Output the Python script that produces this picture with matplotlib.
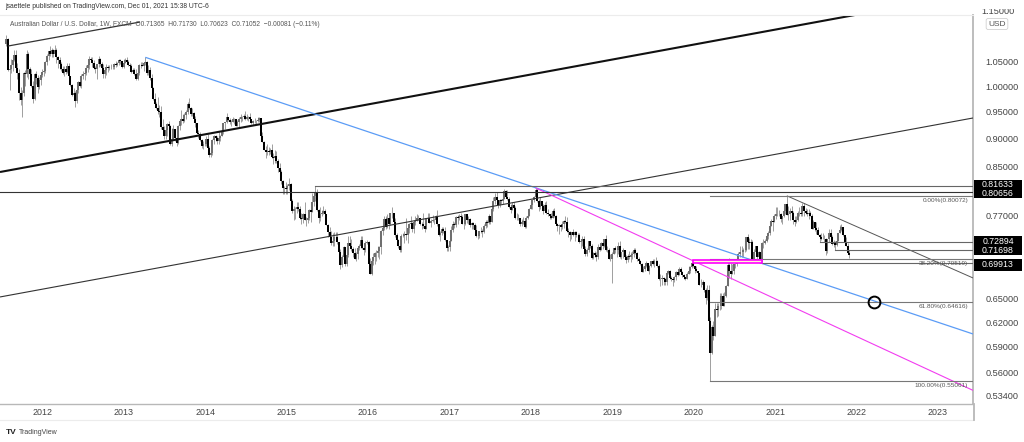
import numpy as np
import pandas as pd
import matplotlib
matplotlib.use("Agg")
import matplotlib.pyplot as plt
import matplotlib.dates as mdates
from matplotlib.patches import Rectangle
from matplotlib.ticker import NullLocator, FixedLocator

plt.rcParams['font.family'] = ['Liberation Sans', 'DejaVu Sans']

# ---------------- weekly AUD/USD data (prices in 1e-4 units), weeks start 2011-07-25 ----------------
first_open = 10880
highs = [
    # 2011
    11081,11010,10390,10560,10620,10760,10750,10480,10340,9990,9920,10280,10320,10764,10710,10390,10350,10100,10260,10300,10220,10190,10250,
    # 2012
    10360,10370,10510,10670,10740, 10840,10800,10770,10856, 10790,10630,10600,10490, 10420,10420,10400,10470,10470,
    10200,10050,9960,9900, 9990,10110,10150,10250, 10310,10300,10430,10470,10620, 10610,10600,10530,10420,
    10460,10625,10580,10490, 10460,10380,10450,10440,10440, 10460,10450,10470,10510, 10490,10570,10570,10510,10560,
    # 2013
    10580,10600,10530,10480, 10450,10380,10380,10340, 10280,10460,10500,10500, 10480,10598,10510,10440,10390,
    10250,9990,9860,9680, 9770,9620,9600,9360, 9220,9200,9270,9320,9240, 9180,9240,9160,9060,
    9240,9340,9530,9440,9460, 9520,9680,9758,9590, 9560,9480,9420,9280, 9140,9120,8990,8940,8990,
    # 2014
    9030,9080,8850,8840, 8980,9060,9060,9030, 9130,9060,9160,9280,9300, 9460,9400,9380,9340,
    9390,9380,9330,9330, 9390,9450,9420,9450,9500, 9450,9420,9460,9360, 9340,9370,9340,9400,
    9400,9360,9110,8950,8860, 8900,8830,8820,8900, 8730,8790,8760,8620, 8560,8430,8270,8170,8230,
    # 2015
    8200,8300,8220,7960, 7850,7830,7900,7910, 7850,7730,7740,7900,7670, 7750,7800,7780,8060,
    8030,8163,8110,7790, 7820,7780,7850,7800,7720, 7570,7520,7460,7420, 7440,7440,7440,7270,7190,
    7100,7230,7130,7120, 7380,7382,7330,7220, 7210,7150,7210,7260,7380, 7380,7280,7300,7320,
    # 2016
    7300,7060,7040,7130, 7140,7170,7240,7240,7470, 7530,7680,7680,7720, 7680,7720,7835,7720,
    7650,7420,7330,7250,7410, 7430,7450,7650,7520, 7580,7680,7600,7620, 7680,7720,7700,7650,7590,
    7730,7560,7660,7730, 7730,7640,7700,7650,7700, 7779,7570,7460,7510, 7520,7520,7310,7250,
    # 2017
    7300,7530,7610,7600,7680, 7700,7720,7740,7700, 7610,7720,7720,7680, 7660,7590,7600,7580,
    7550,7440,7460,7520,7480, 7560,7630,7630,7720, 7690,7790,7990,8060,8070, 7940,7960,7960,7990,
    8125,8100,8100,7990, 7870,7900,7900,7840,7730, 7720,7660,7640,7670, 7640,7680,7720,7810,
    # 2018
    7890,7950,8010,8136,8130, 7950,7990,7920,7880, 7900,7920,7790,7720, 7730,7790,7810,7700,7580,
    7560,7560,7610,7630, 7680,7670,7500,7460, 7440,7480,7460,7450,7430, 7430,7310,7380,7380,
    7240,7200,7310,7310, 7260,7150,7160,7140,7260, 7260,7290,7300,7340, 7390,7240,7200,7110,7140,
    # 2019
    7210,7240,7190,7290, 7300,7150,7210,7180, 7100,7110,7160,7150, 7160,7200,7210,7150,7080,
    7030,6990,6940,6950, 7010,6990,6960,7020, 7050,7040,7080,7030,6970, 6830,6820,6800,6780,
    6850,6890,6890,6810,6780, 6810,6870,6870,6930, 6930,6880,6830,6800, 6860,6940,6950,6990,7030,
    # 2020
    6930,6940,6880,6850, 6770,6750,6730,6650, 6690,6690,6270,6170,6210, 6440,6440,6450,6570,
    6570,6570,6590,6680, 7000,7060,6990,6970,6980, 7010,7060,7150,7230, 7240,7200,7280,7370,7413,
    7350,7340,7320,7190, 7240,7240,7160,7150, 7290,7340,7340,7400,7450, 7580,7640,7630,7720,
    # 2021
    7820,7820,7780,7740, 7690,7780,7880,8007, 7840,7810,7850,7760,7680, 7680,7760,7820,7810,
    7890,7891,7810,7800,7790, 7770,7720,7620,7600, 7600,7510,7410,7420, 7430,7390,7350,7330,7480,
    7480,7400,7320,7310, 7330,7430,7546,7556, 7520,7370,7370,7280,7173,
]
lows = [
    # 2011
    10840,10300,9914,10270,10300,10520,10330,10150,9720,9630,9387,9800,10000,10180,10140,10030,9980,9660,9720,10050,9860,9930,10030,
    # 2012
    10190,10200,10270,10440,10550, 10620,10600,10600,10640, 10480,10370,10360,10300, 10250,10200,10240,10260,10160,
    10000,9800,9770,9581, 9660,9860,9980,9950, 10140,10130,10230,10280,10360, 10500,10400,10360,10270,
    10150,10400,10420,10360, 10170,10160,10220,10290,10330, 10340,10340,10350,10390, 10410,10440,10460,10380,10380,
    # 2013
    10480,10470,10410,10380, 10270,10270,10220,10120, 10120,10220,10370,10410, 10300,10440,10220,10220,10120,
    9960,9730,9580,9540, 9450,9400,9170,9120, 8990,8990,9030,9200,8880, 8848,9000,8950,8850,
    8900,9150,9250,9270,9300, 9350,9440,9550,9420, 9410,9300,9210,9090, 9000,8940,8820,8800,8850,
    # 2014
    8860,8810,8660,8660, 8700,8900,8940,8890, 8890,8950,9030,9070,9170, 9280,9320,9260,9220,
    9290,9260,9220,9220, 9200,9300,9310,9360,9340, 9340,9320,9330,9260, 9240,9270,9260,9300,
    9300,9020,8940,8780,8640, 8700,8690,8720,8640, 8540,8550,8560,8410, 8380,8200,8040,8030,8040,
    # 2015
    8030,8100,7990,7740, 7630,7640,7740,7760, 7640,7560,7580,7620,7530, 7580,7620,7600,7760,
    7850,7930,7770,7580, 7610,7690,7710,7690,7560, 7370,7350,7250,7230, 7240,7300,7260,7044,6900,
    6930,7000,6940,6940, 7070,7210,7160,7070, 7040,7020,7050,7170,7200, 7190,7100,7140,7260,
    # 2016
    6960,6830,6827,6960, 6970,7010,7080,7050,7120, 7400,7470,7480,7500, 7490,7540,7660,7540,
    7370,7310,7200,7140,7150, 7360,7280,7320,7280, 7420,7550,7440,7420, 7550,7630,7620,7540,7490,
    7500,7440,7490,7600, 7580,7520,7590,7570,7590, 7530,7380,7310,7390, 7420,7310,7160,7160,
    # 2017
    7160,7300,7440,7500,7520, 7560,7630,7650,7560, 7490,7540,7580,7560, 7520,7480,7490,7460,
    7370,7330,7350,7420,7370, 7420,7500,7520,7570, 7570,7590,7760,7870,7920, 7810,7830,7870,7880,
    7950,7980,7940,7810, 7730,7780,7800,7640,7620, 7620,7530,7530,7560, 7500,7501,7640,7690,
    # 2018
    7800,7800,7900,7980,7900, 7760,7800,7800,7710, 7750,7720,7680,7640, 7640,7660,7670,7560,7460,
    7410,7450,7490,7500, 7580,7440,7360,7310, 7330,7380,7310,7370,7360, 7280,7200,7240,7190,
    7090,7090,7140,7200, 7040,7040,7080,7020,7050, 7160,7170,7190,7220, 7160,7150,7050,7020,6716,
    # 2019
    7110,7130,7080,7120, 7060,7050,7060,7060, 6990,7000,7040,7000, 7050,7080,7110,7010,6990,
    6960,6860,6860,6870, 6930,6870,6832,6930, 6960,6930,6980,6930,6750, 6677,6690,6690,6690,
    6690,6830,6760,6740,6671, 6720,6750,6810,6820, 6850,6790,6770,6750, 6760,6830,6850,6920,6930,
    # 2020
    6850,6860,6820,6680, 6660,6680,6590,6435, 6480,6210,5506,5810,5980, 6040,6260,6280,6360,
    6370,6400,6400,6520, 6700,6780,6770,6830,6830, 6920,6940,7000,7080, 7080,7080,7140,7160,7190,
    7190,7250,7000,7040, 7090,7030,7060,6990, 7000,7200,7260,7290,7340, 7390,7530,7460,7590,
    # 2021
    7640,7680,7680,7590, 7560,7670,7710,7700, 7620,7620,7690,7560,7530, 7580,7610,7680,7690,
    7690,7680,7710,7690,7640, 7680,7480,7480,7450, 7410,7390,7290,7320, 7330,7290,7105,7130,7290,
    7320,7250,7220,7170, 7230,7300,7420,7460, 7380,7270,7230,7110,7062,
]
closes = [
    # 2011
    10990,10330,10360,10440,10550,10640,10380,10260,9850,9720,9850,10270,10250,10680,10360,10240,10010,9750,10240,10160,9970,10120,10230,
    # 2012
    10280,10300,10500,10620,10730, 10660,10750,10680,10760, 10600,10550,10450,10350, 10270,10350,10290,10410,10200,
    10020,9820,9850,9700, 9910,10080,10010,10210, 10240,10270,10380,10440,10560, 10550,10470,10380,10340,
    10450,10570,10460,10380, 10240,10320,10390,10370,10390, 10400,10390,10460,10440, 10470,10550,10510,10390,10470,
    # 2013
    10550,10500,10430,10420, 10290,10330,10250,10150, 10260,10440,10440,10420, 10470,10490,10270,10330,10170,
    9960,9750,9640,9570, 9500,9480,9200,9150, 9040,9140,9260,9230,8900, 8990,9160,9000,8910,
    9220,9320,9350,9320,9430, 9490,9640,9560,9450, 9470,9350,9280,9100, 9070,8960,8850,8890,8890,
    # 2014
    8990,8820,8700,8740, 8960,9030,9000,8950, 9000,9040,9120,9270,9290, 9400,9340,9290,9300,
    9360,9350,9230,9290, 9360,9390,9400,9420,9360, 9390,9390,9350,9270, 9310,9310,9310,9340,
    9370,9040,8930,8780,8750, 8760,8750,8780,8660, 8640,8680,8600,8470, 8410,8250,8140,8130,8110,
    # 2015
    8170,8200,7920,7770, 7800,7790,7830,7800, 7660,7640,7720,7620,7620, 7660,7780,7750,7900,
    8000,8070,7780,7660, 7720,7740,7770,7720,7540, 7440,7360,7280,7310, 7370,7370,7290,7150,6960,
    7080,7220,6980,7100, 7280,7240,7190,7130, 7050,7120,7200,7230,7320, 7200,7170,7280,7290,
    # 2016
    6970,6840,7010,7070, 7130,7130,7160,7220,7460, 7500,7640,7520,7660, 7570,7730,7730,7600,
    7390,7320,7240,7180,7380, 7380,7410,7400,7500, 7560,7580,7480,7600, 7610,7660,7650,7570,7560,
    7530,7490,7660,7660, 7580,7610,7620,7620,7690, 7560,7390,7430,7480, 7450,7320,7200,7220,
    # 2017
    7300,7470,7560,7540,7670, 7650,7680,7670,7570, 7570,7710,7620,7640, 7540,7580,7550,7470,
    7380,7380,7450,7450,7440, 7530,7590,7580,7690, 7600,7790,7920,7990,7940, 7860,7940,7930,7960,
    8090,7990,7960,7830, 7780,7860,7810,7660,7650, 7650,7560,7600,7610, 7520,7660,7690,7800,
    # 2018
    7860,7940,7990,8100,7920, 7820,7930,7850,7760, 7860,7730,7710,7680, 7660,7760,7680,7570,7530,
    7540,7510,7560,7610, 7600,7450,7440,7400, 7440,7400,7440,7390,7400, 7290,7310,7330,7190,
    7110,7180,7300,7230, 7060,7130,7100,7080,7220, 7180,7280,7230,7330, 7180,7170,7050,7050,7120,
    # 2019
    7200,7170,7180,7230, 7080,7140,7170,7080, 7030,7090,7070,7100, 7110,7170,7130,7040,7010,
    6980,6860,6900,6950, 6990,6880,6940,7020, 6980,7020,7020,6950,6770, 6770,6780,6760,6730,
    6850,6870,6780,6760,6750, 6800,6860,6820,6900, 6860,6820,6790,6760, 6840,6870,6930,6990,6950,
    # 2020
    6900,6880,6850,6690, 6680,6720,6610,6510, 6620,6220,5830,6140,6030, 6370,6360,6410,6400,
    6540,6410,6540,6670, 6960,6870,6840,6880,6970, 6980,7010,7110,7140, 7150,7170,7170,7370,7290,
    7280,7290,7030,7140, 7240,7080,7140,7030, 7270,7270,7300,7380,7430, 7530,7610,7600,7690,
    # 2021
    7720,7710,7710,7640, 7690,7760,7870,7700, 7710,7760,7740,7630,7600, 7620,7740,7740,7720,
    7840,7760,7730,7710,7740, 7690,7490,7590,7500, 7470,7390,7370,7340, 7340,7340,7160,7330,7430,
    7360,7260,7270,7250, 7300,7430,7470,7520, 7390,7290,7230,7137,7105,
]

years = list(range(2012, 2024))
y_ticks = [1.05, 1.00, 0.95, 0.90, 0.85, 0.77, 0.65, 0.62, 0.59, 0.56, 0.534]

# drawings (date, price) anchors
chan_top = [("2011-08-01", 1.0843), ("2013-03-15", 1.1383)]
chan_mid = [("2011-06-26", 0.8402), ("2021-12-24", 1.1546)]
chan_low = [("2011-06-26", 0.6524), ("2023-06-07", 0.9373)]
blue_line = [("2013-04-08", 1.0598), ("2023-06-07", 0.6053)]
pink_line = [("2018-01-22", 0.8136), ("2023-06-07", 0.540)]
gray_down = [("2021-02-22", 0.8007), ("2023-06-07", 0.678)]
h_levels = [0.81633, 0.80656, 0.72894, 0.71698, 0.69913]
h_starts = ["2015-05-11", "2011-06-26", "2021-07-19", "2021-09-27", "2020-11-02"]
fib_levels = [0.80072, 0.70519, 0.64616, 0.55061]
fib_labels = ["0.00%(0.80072)", "38.20%(0.70519)", "61.80%(0.64616)", "100.00%(0.55061)"]
fib_start = "2020-03-16"
box_zone = [("2019-12-30", 0.7032), ("2020-11-02", 0.6991)]
circle_pt = ("2022-03-21", 0.6462)

# ---------------- figure ----------------
W, H = 1024, 442
fig = plt.figure(figsize=(W / 100, H / 100), dpi=100)
fig.patch.set_facecolor("white")
top_px, bot_px, right_px = 15, 404, 973
ax = fig.add_axes([0, 1 - bot_px / H, right_px / W, (bot_px - top_px) / H])
ax.set_facecolor("white")

d = lambda s: mdates.date2num(pd.Timestamp(s))
x_left, x_right = d("2011-06-26"), d("2023-06-07")
ax.set_xlim(x_left, x_right)
ax.set_yscale("log")
ax.set_ylim(0.5253, 1.1546)

hi = np.array(highs) / 1e4
lo = np.array(lows) / 1e4
cl = np.array(closes) / 1e4
op = np.concatenate([[first_open / 1e4], cl[:-1]])
dates = pd.date_range("2011-07-25", periods=len(cl), freq="W-MON")
xs = mdates.date2num(dates)

wl = np.minimum(lo, np.minimum(op, cl))
wh = np.maximum(hi, np.maximum(op, cl))
ax.vlines(xs, wl, wh, color="#8f8f8f", lw=0.6, zorder=2)
up = cl >= op
ax.vlines(xs[up], op[up], cl[up], color="#6f6f6f", lw=1.45, zorder=3)
ax.vlines(xs[~up], op[~up], cl[~up], color="#000000", lw=1.45, zorder=4)

def seg(pts, **kw):
    ax.plot([d(p[0]) for p in pts], [p[1] for p in pts], solid_capstyle="butt", **kw)

seg(chan_top, color="#333333", lw=0.9, zorder=5)
seg(chan_mid, color="#111111", lw=1.5, zorder=5)
seg(chan_low, color="#333333", lw=0.8, zorder=5)
seg(blue_line, color="#5b9cf6", lw=0.9, zorder=5)
seg(pink_line, color="#f23cf0", lw=0.8, zorder=5)
seg(gray_down, color="#555555", lw=0.7, zorder=5)

for lev, st in zip(h_levels, h_starts):
    c = "#333333" if lev == 0.80656 else "#666666"
    ax.plot([d(st), x_right], [lev, lev], color=c, lw=0.8, zorder=5)
for lev, lab in zip(fib_levels, fib_labels):
    ax.plot([d(fib_start), x_right], [lev, lev], color="#777777", lw=0.8, zorder=5)
    ax.annotate(lab, xy=(0.9949, lev), xycoords=("axes fraction", "data"),
                xytext=(0, -1.5), textcoords="offset points", ha="right", va="top",
                fontsize=4.6, color="#555555", zorder=6)

(b0, p0), (b1, p1) = box_zone
ax.add_patch(Rectangle((d(b0), p1), d(b1) - d(b0), p0 - p1, facecolor="#fff8d0",
                       edgecolor="#ff00ff", lw=1.2, zorder=6))
ax.plot([d(circle_pt[0])], [circle_pt[1]], marker="o", ms=8.5, mfc="none",
        mec="black", mew=1.4, zorder=7)

# axes styling
for s in ["left", "top"]:
    ax.spines[s].set_visible(False)
ax.spines["right"].set_color("#b8b8b8")
ax.spines["right"].set_linewidth(1.3)
ax.spines["bottom"].set_color("#b8b8b8")
ax.spines["bottom"].set_linewidth(1.0)
ax.yaxis.tick_right()
ax.yaxis.set_major_locator(FixedLocator(y_ticks))
ax.yaxis.set_minor_locator(NullLocator())
ax.set_yticklabels([f"{v:.5f}" for v in y_ticks])
ax.tick_params(axis="y", length=0, pad=9, labelsize=6.6, colors="#444444")
ax.set_xticks([d(f"{y}-01-01") for y in years])
ax.set_xticklabels([str(y) for y in years])
ax.xaxis.set_minor_locator(NullLocator())
ax.tick_params(axis="x", length=0, pad=3.0, labelsize=6.4, colors="#444444")

fig.canvas.draw()

# price label boxes (y centres in pixels from the top, placed so that they don't collide)
label_centres = [184.5, 193.5, 241.0, 250.5, 264.5]
label_heights = [9.0, 9.0, 9.5, 9.5, 12.0]
for lev, yc_top, hgt in zip(h_levels, label_centres, label_heights):
    yc = H - yc_top
    fig.patches.append(Rectangle((974 / W, (yc - hgt / 2) / H), 48 / W, hgt / H,
                                 transform=fig.transFigure, facecolor="black",
                                 edgecolor="none", zorder=3))
    fig.text(998 / W, yc / H, f"{lev:.5f}", ha="center", va="center",
             fontsize=6.3, color="white", zorder=4)

# top partial label and USD
fig.text(998 / W, 1 - 11 / H, "1.15000", ha="center", va="center", fontsize=6.6, color="#444444")
fig.patches.append(Rectangle((974 / W, 1 - 9 / H), 50 / W, 9 / H, transform=fig.transFigure,
                             facecolor="white", edgecolor="none", zorder=5))
fig.text(997 / W, 1 - 24 / H, "USD", ha="center", va="center", fontsize=6, color="#555555",
         bbox=dict(boxstyle="round,pad=0.25", fc="white", ec="#d0d0d0", lw=0.6), zorder=6)

# border lines
fig.lines.append(plt.Line2D([0, right_px / W], [1 - top_px / H] * 2, transform=fig.transFigure,
                            color="#ececec", lw=0.8))
fig.lines.append(plt.Line2D([0, right_px / W], [1 - 420 / H] * 2, transform=fig.transFigure,
                            color="#ececec", lw=0.8))
fig.lines.append(plt.Line2D([(right_px + 0.5) / W] * 2, [1 - 420 / H, 1 - 404 / H],
                            transform=fig.transFigure, color="#b8b8b8", lw=1.3))

fig.text(5 / W, 1 - 7 / H, "jsaettele published on TradingView.com, Dec 01, 2021 15:38 UTC-6",
         ha="left", va="center", fontsize=4.9, color="#333333")
fig.text(10 / W, 1 - 25 / H,
         "Australian Dollar / U.S. Dollar, 1W, FXCM  O0.71365  H0.71730  L0.70623  C0.71052  \u22120.00081 (\u22120.11%)",
         ha="left", va="center", fontsize=4.8, color="#555555")
fig.text(6 / W, 1 - 432 / H, "TV", ha="left", va="center", fontsize=6, fontweight="bold", color="#222222")
fig.text(19 / W, 1 - 432 / H, "TradingView", ha="left", va="center", fontsize=5, color="#444444")

fig.savefig("out.png", dpi=100)
